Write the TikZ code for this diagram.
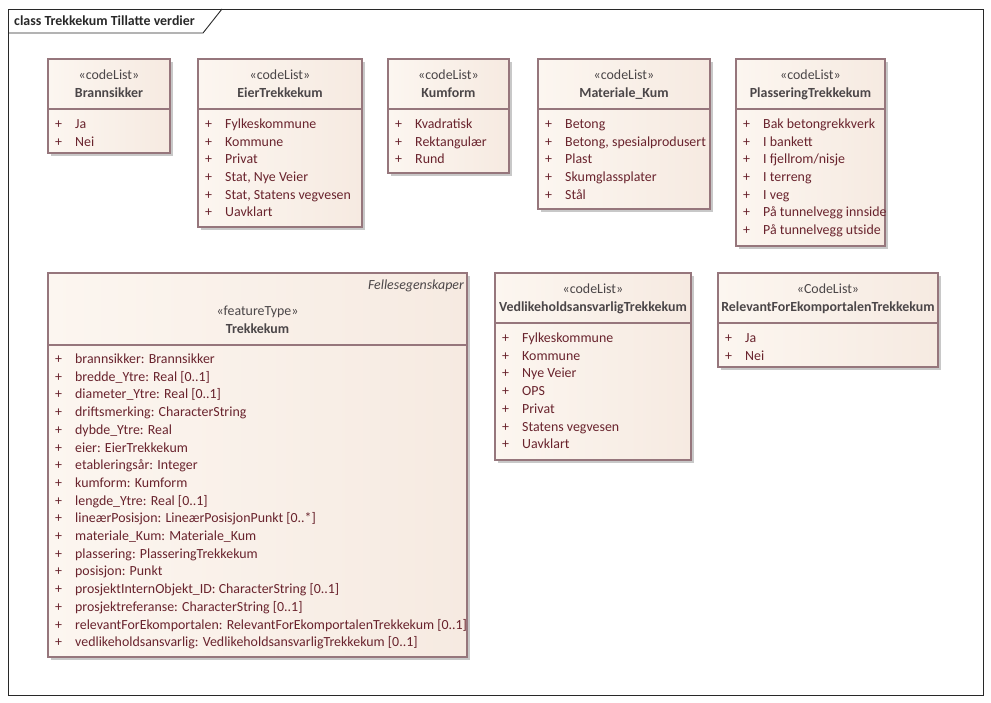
\documentclass[tikz,border=0pt]{standalone}
\usepackage{fontspec}
\setmainfont{Carlito}
\usetikzlibrary{calc}

\definecolor{boxline}{RGB}{150,118,124}
\definecolor{boxleft}{RGB}{252,246,240}
\definecolor{boxright}{RGB}{246,234,225}
\definecolor{boxshadow}{RGB}{200,200,200}
\definecolor{itemtext}{RGB}{105,35,45}
\definecolor{headtext}{RGB}{75,70,72}
\definecolor{framecol}{RGB}{40,40,40}

\begin{document}
\begin{tikzpicture}[x=1pt,y=-1pt,
    classrect/.style={draw=boxline, line width=1.4pt, left color=boxleft, right color=boxright},
    shadowrect/.style={fill=boxshadow, draw=none},
    divline/.style={draw=boxline, line width=1.4pt},
    stereotxt/.style={inner sep=0pt, anchor=base, text=headtext, font=\fontsize{13.9}{16}\selectfont},
    nametxt/.style={stereotxt, font=\fontsize{13.9}{16}\selectfont\bfseries},
    itemtxt/.style={inner sep=0pt, anchor=base west, text=itemtext, font=\fontsize{13.9}{16}\selectfont}]
        \newcommand{\classbox}[6]{% name, left, top, right, bottom, divider
            \fill[shadowrect] (#2+3,#3+3) rectangle (#4+3,#5+3);
            \path[classrect] (#2,#3) rectangle (#4,#5);
            \draw[divline] (#2,#6) -- (#4,#6);
        }
        \newcommand{\classitems}[4]{% name, left, first baseline, items
            \foreach \itm [count=\k] in {#4} {
                \node[itemtxt] (#1-plus\k) at (#2+7,#3+17.7*\k-17.7) {+};
                \node[itemtxt] (#1-item\k) at (#2+27,#3+17.7*\k-17.7) {\itm};
            }
        }
        \useasboundingbox (0,0) rectangle (991,703);

        % diagram frame
        \draw[framecol, line width=0.9pt] (8,9) rectangle (983,695);
        \draw[framecol, line width=0.9pt] (8,33) -- (203,33) -- (222,9);
        \node[inner sep=0pt, anchor=base west, text=framecol, font=\fontsize{13.9}{16}\selectfont\bfseries] (title) at (14,25.5) {class Trekkekum Tillatte verdier};

        % top row of code lists
        \classbox{brann}{48}{59}{170}{153}{109}
        \node[stereotxt] (brann-st) at (109,79.5) {«codeList»};
        \node[nametxt] (brann-nm) at (109,97.5) {Brannsikker};
        \classitems{brann}{48}{128.5}{Ja, Nei}

        \classbox{eier}{198}{59}{362}{227}{109}
        \node[stereotxt] (eier-st) at (280,79.5) {«codeList»};
        \node[nametxt] (eier-nm) at (280,97.5) {EierTrekkekum};
        \classitems{eier}{198}{128.5}{Fylkeskommune, Kommune, Privat, {Stat, Nye Veier}, {Stat, Statens vegvesen}, Uavklart}

        \classbox{kumform}{388}{59}{509}{173}{109}
        \node[stereotxt] (kumform-st) at (448.5,79.5) {«codeList»};
        \node[nametxt] (kumform-nm) at (448.5,97.5) {Kumform};
        \classitems{kumform}{388}{128.5}{Kvadratisk, Rektangulær, Rund}

        \classbox{materiale}{538}{59}{710}{209}{109}
        \node[stereotxt] (materiale-st) at (624,79.5) {«codeList»};
        \node[nametxt] (materiale-nm) at (624,97.5) {Materiale\_Kum};
        \classitems{materiale}{538}{128.5}{Betong, {Betong, spesialprodusert}, Plast, Skumglassplater, Stål}

        \classbox{plassering}{736}{59}{885}{246}{109}
        \node[stereotxt] (plassering-st) at (810.5,79.5) {«codeList»};
        \node[nametxt] (plassering-nm) at (810.5,97.5) {PlasseringTrekkekum};
        \classitems{plassering}{736}{128.5}{Bak betongrekkverk, I bankett, I fjellrom/nisje, I terreng, I veg, På tunnelvegg innside, På tunnelvegg utside}

        % feature type
        \classbox{trekkekum}{48}{273}{467}{657}{345}
        \node[inner sep=0pt, anchor=base east, text=headtext, font=\fontsize{13.9}{16}\selectfont\itshape] (trekkekum-pk) at (464,289.5) {Fellesegenskaper};
        \node[stereotxt] (trekkekum-st) at (257.5,315.5) {«featureType»};
        \node[nametxt] (trekkekum-nm) at (257.5,333.5) {Trekkekum};
        \classitems{trekkekum}{48}{363.5}{brannsikker: Brannsikker, bredde\_Ytre: Real [0..1], diameter\_Ytre: Real [0..1], driftsmerking: CharacterString, dybde\_Ytre: Real, eier: EierTrekkekum, etableringsår: Integer, kumform: Kumform, lengde\_Ytre: Real [0..1], lineærPosisjon: LineærPosisjonPunkt [0..*], materiale\_Kum: Materiale\_Kum, plassering: PlasseringTrekkekum, posisjon: Punkt, prosjektInternObjekt\_ID: CharacterString [0..1], prosjektreferanse: CharacterString [0..1], relevantForEkomportalen: RelevantForEkomportalenTrekkekum [0..1], vedlikeholdsansvarlig: VedlikeholdsansvarligTrekkekum [0..1]}

        % lower code lists
        \classbox{vedlikehold}{495}{273}{691}{460}{323}
        \node[stereotxt] (vedlikehold-st) at (593,293.5) {«codeList»};
        \node[nametxt] (vedlikehold-nm) at (593,311.5) {VedlikeholdsansvarligTrekkekum};
        \classitems{vedlikehold}{495}{342.5}{Fylkeskommune, Kommune, Nye Veier, OPS, Privat, Statens vegvesen, Uavklart}

        \classbox{relevant}{718}{273}{938}{367}{323}
        \node[stereotxt] (relevant-st) at (828,293.5) {«CodeList»};
        \node[nametxt] (relevant-nm) at (828,311.5) {RelevantForEkomportalenTrekkekum};
        \classitems{relevant}{718}{342.5}{Ja, Nei}
    \end{tikzpicture}
\end{document}
